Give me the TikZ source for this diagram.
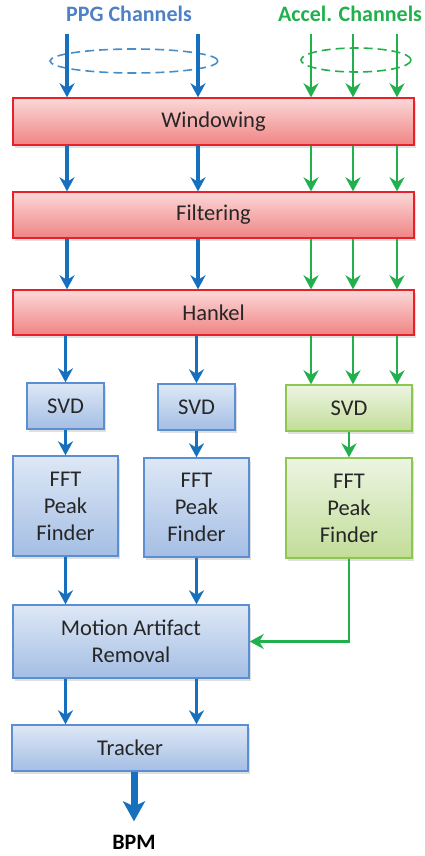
\documentclass[tikz,border=0pt]{standalone}
\usepackage{fontspec}
\setmainfont{Carlito}
\usetikzlibrary{arrows.meta,shadows}

\definecolor{ppgblue}{RGB}{22,112,190}
\definecolor{ppgtitle}{RGB}{79,129,196}
\definecolor{accgreen}{RGB}{34,176,76}
\definecolor{redline}{RGB}{232,32,42}
\definecolor{redtop}{RGB}{251,216,216}
\definecolor{redbot}{RGB}{240,132,132}
\definecolor{blueline}{RGB}{92,142,210}
\definecolor{bluetop}{RGB}{222,232,246}
\definecolor{bluebot}{RGB}{164,190,228}
\definecolor{greenline}{RGB}{140,200,80}
\definecolor{greentop}{RGB}{236,245,226}
\definecolor{greenbot}{RGB}{194,221,152}

\begin{document}
\begin{tikzpicture}[x=1pt, y=-1pt, font=\fontsize{22.5}{27}\selectfont,
  box/.style={draw, line width=1.4pt, align=center, inner sep=0pt, text=black!85,
    drop shadow={opacity=0.25, shadow xshift=1.5pt, shadow yshift=-3pt}},
  redbox/.style={box, draw=redline, top color=redtop, bottom color=redbot},
  bluebox/.style={box, draw=blueline, top color=bluetop, bottom color=bluebot},
  greenbox/.style={box, draw=greenline, top color=greentop, bottom color=greenbot},
  bluearr/.style={ppgblue, line width=3.2pt, -{Stealth[length=14pt, width=15pt, inset=4.5pt]}},
  greenarr/.style={accgreen, line width=2.8pt, -{Stealth[length=14pt, width=15pt, inset=4.5pt]}},
  title/.style={font=\fontsize{22}{26}\selectfont\bfseries}]
\useasboundingbox (0,0) rectangle (425,856);

% channel columns
\coordinate (p1) at (67,34);
\coordinate (p2) at (198,34);
\coordinate (a1) at (311,34);
\coordinate (a2) at (353,34);
\coordinate (a3) at (397,34);

% titles
\node[title, text=ppgtitle] (ppg) at (129,14) {PPG Channels};
\node[title, text=accgreen] (acc) at (350,14) {Accel. Channels};

% shared stages
\node[redbox, minimum width=401, minimum height=47] (win) at (213.5,121.5) {Windowing};
\node[redbox, minimum width=401, minimum height=46] (filt) at (213.5,215) {Filtering};
\node[redbox, minimum width=401, minimum height=45] (hank) at (213.5,312.5) {Hankel};

% per channel stages
\node[bluebox, minimum width=77, minimum height=46] (svd1) at (65.5,406) {SVD};
\node[bluebox, minimum width=77, minimum height=46] (svd2) at (196.5,407) {SVD};
\node[greenbox, minimum width=126, minimum height=46] (svd3) at (349,408) {SVD};
\node[bluebox, minimum width=105, minimum height=100] (fft1) at (65.5,506) {FFT\\Peak\\Finder};
\node[bluebox, minimum width=105, minimum height=99] (fft2) at (196.5,507.5) {FFT\\Peak\\Finder};
\node[greenbox, minimum width=126, minimum height=100] (fft3) at (349,508) {FFT\\Peak\\Finder};

% back end
\node[bluebox, minimum width=236, minimum height=73] (mar) at (131,641.5) {Motion Artifact\\Removal};
\node[bluebox, minimum width=236, minimum height=46] (trk) at (130,748) {Tracker};
\node[title, text=black] (bpm) at (134,842) {BPM};

% input bundles
\draw[ppgblue!80!white, line width=1.6pt, dash pattern=on 9pt off 5pt] (134,61) ellipse [x radius=84, y radius=12];
\draw[accgreen, line width=1.6pt, dash pattern=on 9pt off 5pt] (356,60) ellipse [x radius=55, y radius=12];

\foreach \c in {p1,p2} {
  \draw[bluearr] (\c) -- (win.north -| \c);
  \draw[bluearr] (win.south -| \c) -- (filt.north -| \c);
  \draw[bluearr] (filt.south -| \c) -- (hank.north -| \c);
}
\foreach \c in {a1,a2,a3} {
  \draw[greenarr] (\c) -- (win.north -| \c);
  \draw[greenarr] (win.south -| \c) -- (filt.north -| \c);
  \draw[greenarr] (filt.south -| \c) -- (hank.north -| \c);
  \draw[greenarr] (hank.south -| \c) -- (svd3.north -| \c);
}
\draw[bluearr] (hank.south -| svd1) -- (svd1.north);
\draw[bluearr] (hank.south -| svd2) -- (svd2.north);

\draw[bluearr] (svd1) -- (fft1.north);
\draw[bluearr] (svd2) -- (fft2.north);
\draw[greenarr] (svd3) -- (fft3.north);
\draw[bluearr] (fft1.south) -- (mar.north -| fft1);
\draw[bluearr] (fft2.south) -- (mar.north -| fft2);
\draw[greenarr] (fft3.south) |- (mar.east);

\draw[bluearr] (mar.south -| fft1) -- (trk.north -| fft1);
\draw[bluearr] (mar.south -| fft2) -- (trk.north -| fft2);
\draw[ppgblue, line width=7pt, -{Stealth[length=20pt, width=22pt, inset=5pt]}, shorten >=10pt] (trk.south -| bpm) -- (bpm.north);
\end{tikzpicture}
\end{document}
